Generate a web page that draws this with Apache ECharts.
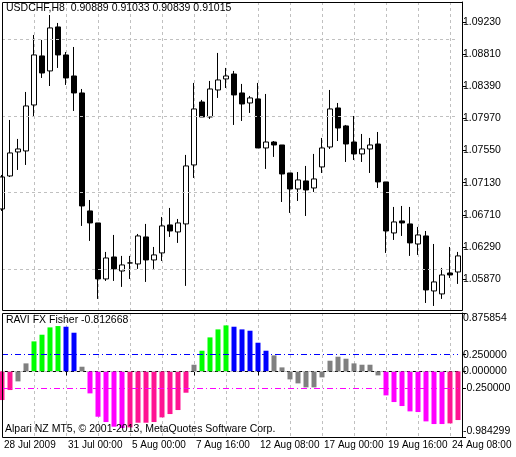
<!DOCTYPE html>
<html>
<head>
<meta charset="utf-8">
<script src="https://cdn.jsdelivr.net/npm/echarts@6/dist/echarts.min.js"></script>
<style>
  html, body { margin: 0; padding: 0; background: #fff; }
  #chart { width: 516px; height: 457px; }
</style>
</head>
<body>
<div id="chart"></div>
<script>
// candle data: [open, close, low, high]
var candles = [
  [1.06786,1.07204,1.06760,1.07230],[1.07217,1.07518,1.07204,1.07949],[1.07531,1.07570,1.07296,1.07701],
  [1.07544,1.08132,1.07361,1.08315],[1.08145,1.08799,1.07988,1.09060],[1.08786,1.08563,1.08498,1.08995],
  [1.08590,1.09152,1.08393,1.09321],[1.09165,1.08799,1.08629,1.09217],[1.08799,1.08498,1.08407,1.08838],
  [1.08524,1.08302,1.08067,1.08903],[1.08302,1.06825,1.06564,1.08354],[1.06760,1.06603,1.06368,1.06903],
  [1.06603,1.05871,1.05610,1.06603],[1.05871,1.06145,1.05845,1.06224],[1.06158,1.06002,1.05845,1.06446],
  [1.05975,1.06054,1.05767,1.06172],[1.06080,1.06080,1.05871,1.06172],[1.06067,1.06433,1.06002,1.06459],
  [1.06420,1.06119,1.05832,1.06590],[1.06119,1.06185,1.06002,1.06289],[1.06211,1.06564,1.06106,1.06681],
  [1.06577,1.06498,1.06420,1.06799],[1.06485,1.06603,1.06342,1.06655],[1.06590,1.07348,1.05780,1.07492],
  [1.07361,1.08093,1.07191,1.08433],[1.08184,1.07988,1.07988,1.08211],[1.07988,1.08354,1.07962,1.08459],
  [1.08341,1.08472,1.08237,1.08825],[1.08485,1.08524,1.08367,1.08629],[1.08550,1.08276,1.07884,1.08590],
  [1.08302,1.08158,1.07936,1.08420],[1.08171,1.08237,1.08041,1.08263],[1.08224,1.07583,1.07583,1.08433],
  [1.07583,1.07661,1.07309,1.08289],[1.07661,1.07622,1.07466,1.07674],[1.07622,1.07243,1.06877,1.07622],
  [1.07256,1.07047,1.06734,1.07256],[1.07047,1.07165,1.06890,1.07269],[1.07152,1.07034,1.06694,1.07348],
  [1.07060,1.07178,1.07008,1.07505],[1.07335,1.07583,1.07256,1.07714],[1.07596,1.08093,1.07570,1.08341],
  [1.08106,1.07844,1.07674,1.08171],[1.07871,1.07635,1.07400,1.07884],[1.07661,1.07505,1.07426,1.08001],
  [1.07505,1.07570,1.07400,1.07766],[1.07570,1.07622,1.07256,1.07714],[1.07635,1.07139,1.07060,1.07792],
  [1.07139,1.06498,1.06211,1.07139],[1.06472,1.06616,1.06381,1.06812],[1.06629,1.06603,1.06433,1.06825],
  [1.06590,1.06342,1.06172,1.06812],[1.06328,1.06446,1.06185,1.06551],[1.06433,1.05727,1.05557,1.06498],
  [1.05714,1.05832,1.05518,1.06328],[1.05675,1.05923,1.05610,1.06015],[1.05949,1.05923,1.05884,1.06289],
  [1.05962,1.06172,1.05806,1.06224]
];
var fisher = [
  -0.43,-0.28,-0.15,0.12,0.45,0.55,0.66,0.68,0.67,0.58,0.07,-0.33,-0.68,-0.76,-0.83,-0.85,-0.84,-0.77,-0.77,-0.76,
  -0.69,-0.64,-0.58,-0.32,0.10,0.31,0.51,0.63,0.69,0.67,0.63,0.61,0.43,0.31,0.24,0.06,-0.12,-0.18,-0.24,-0.24,
  -0.09,0.16,0.22,0.19,0.12,0.10,0.10,-0.06,-0.36,-0.46,-0.52,-0.60,-0.61,-0.75,-0.79,-0.79,-0.78,-0.73
];
// g=gray, u=green, d=blue, m=magenta, p=deeppink
var fisherState = 'pp' + 'gg' + 'uuuu' + 'dd' + 'g' + 'mmmmm' + 'pppppppp' + 'g' + 'uuuu' + 'ddddd' +
  'gggggggggggggg' + 'mmmmmmmm' + 'pp';
var priceTicks = [1.09230,1.08810,1.08390,1.07970,1.07550,1.07130,1.06710,1.06290,1.05870];
var fisherTicks = [0.875854,0.25,0,-0.25,-0.984299];
var timeLabels = ['28 Jul 2009','31 Jul 00:00','5 Aug 00:00','7 Aug 16:00','12 Aug 08:00','17 Aug 00:00','19 Aug 16:00','24 Aug 08:00'];

var stateColor = { g: '#808080', u: '#00ff00', d: '#0000ff', m: '#ff00ff', p: '#ff1493' };
var cats = candles.map(function (c, i) { return String(i); });
var font = 'Liberation Sans';

var myChart = echarts.init(document.getElementById('chart'));

function xAx(gi, showLabel) {
  return {
    type: 'category', gridIndex: gi, data: cats, boundaryGap: false,
    axisLine: { show: showLabel, lineStyle: { color: '#000' } },
    axisTick: { show: showLabel, length: 4, interval: function (i) { return i % 8 === 0; }, lineStyle: { color: '#000' } },
    axisLabel: {
      show: showLabel, interval: function (i) { return i % 8 === 0; }, align: 'left', margin: 3,
      padding: [0, 0, 0, 2], hideOverlap: false, fontFamily: font, fontSize: 10, color: '#000',
      formatter: function (v) { return timeLabels[Number(v) / 8] || ''; }
    },
    splitLine: { show: true, interval: function (i) { return i > 0 && i % 4 === 0; }, lineStyle: { color: '#c0c0c0', type: [3, 3] } }
  };
}

var option = {
  animation: false,
  grid: [
    { left: 2, right: 58, top: 2, height: 308 },
    { left: 2, right: 58, top: 313, height: 124 }
  ],
  xAxis: [xAx(0, false), xAx(1, true)],
  yAxis: [
    {
      type: 'value', gridIndex: 0, position: 'right', offset: 4, min: 1.05465, max: 1.09491, scale: true,
      axisLine: { show: true, lineStyle: { color: '#000' } },
      axisTick: { show: true, length: 4, customValues: priceTicks, lineStyle: { color: '#000' } },
      axisLabel: { customValues: priceTicks, margin: 1, fontFamily: font, fontSize: 10.5, color: '#000',
        formatter: function (v) { return v.toFixed(5); } },
      splitLine: { show: false }
    },
    {
      type: 'value', gridIndex: 1, position: 'right', offset: 4, min: -0.984299, max: 0.875854,
      axisLine: { show: true, lineStyle: { color: '#000' } },
      axisTick: { show: true, length: 4, customValues: fisherTicks, lineStyle: { color: '#000' } },
      axisLabel: { customValues: fisherTicks, margin: 1, fontFamily: font, fontSize: 10.5, color: '#000',
        showMinLabel: true, showMaxLabel: true,
        verticalAlignMaxLabel: 'bottom', verticalAlignMinLabel: 'top',
        formatter: function (v) { return v.toFixed(6); } },
      splitLine: { show: false }
    }
  ],
  graphic: [
    { type: 'rect', shape: { x: 2.5, y: 2.5, width: 460, height: 308 }, style: { fill: 'none', stroke: '#000', lineWidth: 1 }, z: 10 },
    { type: 'rect', shape: { x: 2.5, y: 313.5, width: 460, height: 124 }, style: { fill: 'none', stroke: '#000', lineWidth: 1 }, z: 10 },
    { type: 'text', left: 6, top: 3, style: { text: 'USDCHF,H8  0.90889 0.91033 0.90839 0.91015', font: '10.5px "Liberation Sans"', fill: '#000' }, z: 10 },
    { type: 'text', left: 6, top: 315, style: { text: 'RAVI FX Fisher -0.812668', font: '10.5px "Liberation Sans"', fill: '#000' }, z: 10 },
    { type: 'text', left: 5, top: 424, style: { text: 'Alpari NZ MT5, © 2001-2013, MetaQuotes Software Corp.', font: '10.5px "Liberation Sans"', fill: '#000' }, z: 10 }
  ],
  series: [
    {
      type: 'candlestick', xAxisIndex: 0, yAxisIndex: 0, data: candles, barWidth: 5, clip: false,
      itemStyle: { color: '#fff', color0: '#000', borderColor: '#000', borderColor0: '#000', borderWidth: 1 },
      markLine: {
        silent: true, symbol: 'none', label: { show: false }, animation: false,
        lineStyle: { color: '#c0c0c0', type: [3, 3], width: 1 },
        data: priceTicks.map(function (p) { return { yAxis: p }; })
      },
      z: 3
    },
    {
      type: 'bar', xAxisIndex: 1, yAxisIndex: 1, barWidth: 5,
      data: fisher.map(function (v, i) { return { value: v, itemStyle: { color: stateColor[fisherState[i]] } }; }),
      markLine: {
        silent: true, symbol: 'none', label: { show: false }, animation: false,
        data: [
          { yAxis: 0.25, lineStyle: { color: '#0000ff', type: [6, 3, 1, 3], width: 1 } },
          { yAxis: 0, lineStyle: { color: '#c0c0c0', type: [3, 3], width: 1 } },
          { yAxis: -0.25, lineStyle: { color: '#ff00ff', type: [6, 3, 1, 3], width: 1 } }
        ]
      }
    }
  ]
};
myChart.setOption(option);
</script>
</body>
</html>
